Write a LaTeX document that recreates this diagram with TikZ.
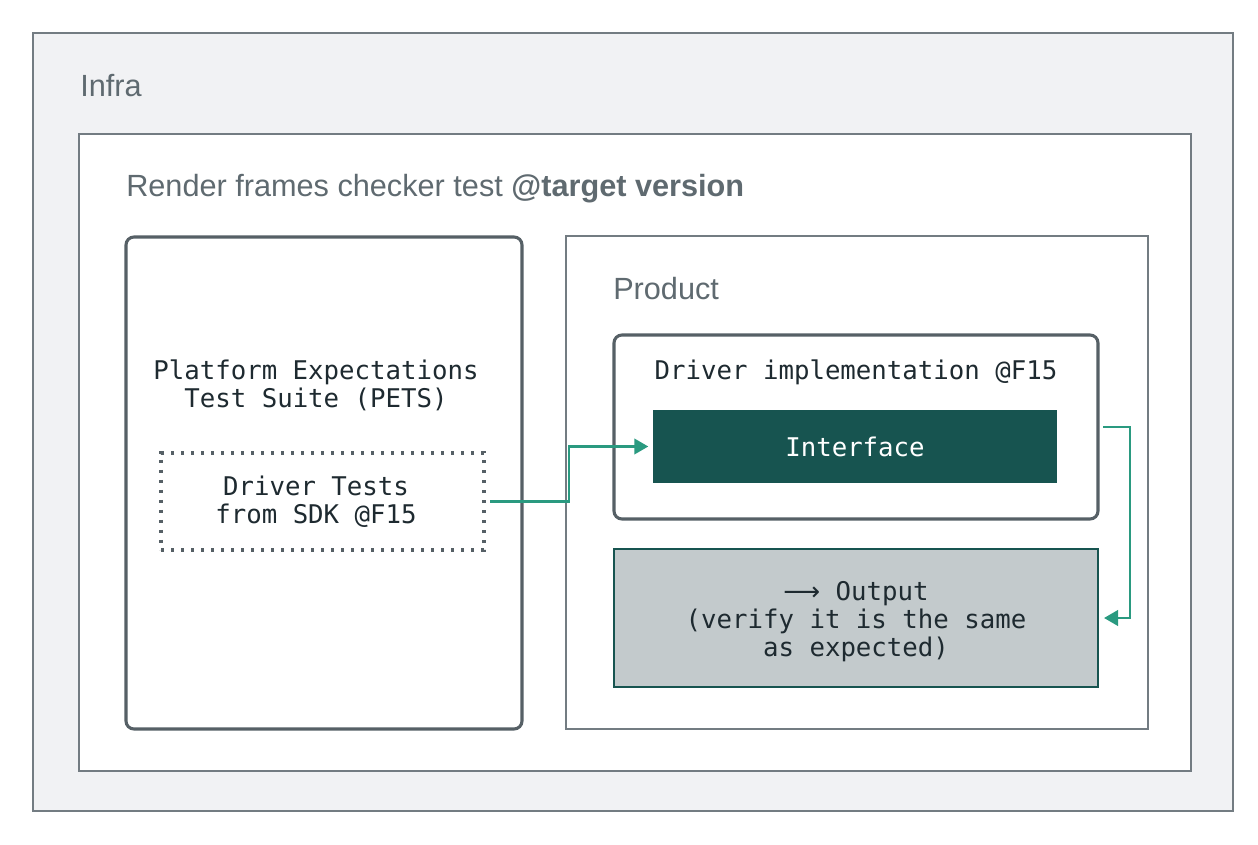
\documentclass[tikz,border=0pt]{standalone}
\usepackage{fontspec}
\setmainfont{Liberation Sans}
\newfontfamily\codefont{DejaVu Sans Mono}
\newfontfamily\arrowfont{DejaVu Sans}
\usetikzlibrary{arrows.meta}

\definecolor{infrafill}{HTML}{F1F2F4}
\definecolor{framegray}{HTML}{737C82}
\definecolor{darkframe}{HTML}{566066}
\definecolor{labelgray}{HTML}{5F6A70}
\definecolor{inkdark}{HTML}{1E2A30}
\definecolor{tealdark}{HTML}{175450}
\definecolor{tealflow}{HTML}{2A9A80}
\definecolor{outfill}{HTML}{C3CACC}

\tikzset{
  box/.style={rectangle, inner sep=0pt, outer sep=0pt},
  frame/.style={box, draw=framegray, line width=1.5pt},
  card/.style={box, draw=darkframe, line width=2.3pt, rounded corners=6pt, fill=white},
  title/.style={inner sep=0pt, text=labelgray, font=\fontsize{23}{27}\selectfont},
  code/.style={inner sep=0pt, align=center, text=inkdark, font=\codefont\fontsize{19.3}{21}\selectfont},
  flow/.style={draw=tealflow, line width=2.1pt, -{Triangle[length=10.5pt,width=11.5pt]}}
}

\begin{document}
\begin{tikzpicture}[x=0.75pt, y=-0.75pt]
  \useasboundingbox (0,0) rectangle (1258,845);

  % outer infrastructure frame
  \node[frame, fill=infrafill, minimum width=900pt, minimum height=583.5pt] (infra) at (633,422) {};
  \node[title, anchor=base west] (infralbl) at (80,97) {Infra};

  % checker test frame
  \node[frame, fill=white, minimum width=834pt, minimum height=477.75pt] (checker) at (635,452.5) {};
  \node[title, anchor=base west] (checkerlbl) at (126,197) {Render frames checker test \textbf{@target version}};

  % test suite card
  \node[card, minimum width=297pt, minimum height=369pt] (pets) at (324,483) {};
  \node[code] (petslbl) at (316,385) {Platform Expectations\\Test Suite (PETS)};
  \node[box, draw=darkframe, line width=2.3pt, dash pattern=on 2.3pt off 5.2pt, minimum width=242.25pt, minimum height=72.75pt] (tests) at (322.5,501.5) {};
  \node[code] (testslbl) at (316,502) {Driver Tests\\from SDK @F15};

  % product frame
  \node[frame, fill=white, minimum width=436.5pt, minimum height=369.75pt] (product) at (857,482.5) {};
  \node[title, anchor=base west] (productlbl) at (613,300) {Product};

  \node[card, minimum width=363pt, minimum height=138pt] (driver) at (856,427) {};
  \node[code] (driverlbl) at (856,372) {Driver implementation @F15};
  \node[box, fill=tealdark, minimum width=303pt, minimum height=54.75pt] (iface) at (855,446.5) {};
  \node[code, text=white] (ifacelbl) at (855,447) {Interface};

  \node[box, draw=tealdark, line width=1.5pt, fill=outfill, minimum width=363pt, minimum height=103.5pt] (output) at (856,618) {};
  \node[code] (outputlbl) at (856,622) {{\arrowfont ⟶} Output\\(verify it is the same\\as expected)};

  % connectors
  \coordinate (bendA) at (569,0);
  \coordinate (bendB) at (1130,0);
  \draw[flow, shorten >=3.5pt] ([xshift=4.5pt]tests.east) -| (bendA |- iface.west) -- (iface.west);
  \draw[flow, shorten >=4.5pt] ([xshift=3.75pt]driver.east) -| (bendB |- output.east) -- (output.east);
\end{tikzpicture}
\end{document}
